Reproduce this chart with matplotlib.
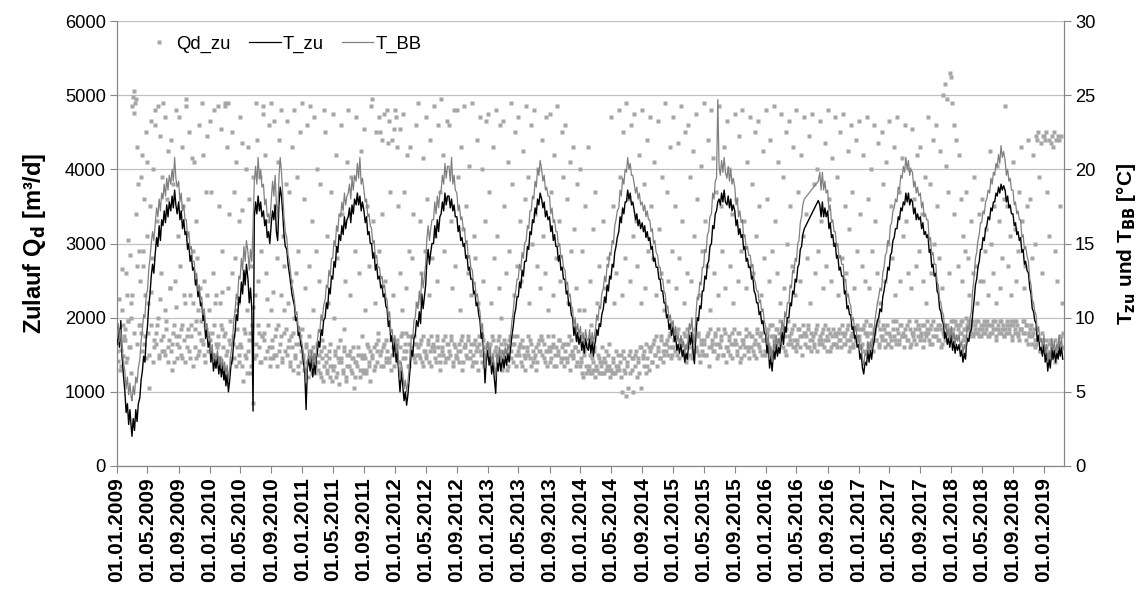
import numpy as np
import pandas as pd
import matplotlib
matplotlib.use("Agg")
import matplotlib.pyplot as plt
from matplotlib.lines import Line2D

plt.rcParams['font.family'] = ['Liberation Sans', 'DejaVu Sans']

# ---------------- data ----------------
# Temperatures: six readings per month (days 1, 6, 11, 16, 21, 26), degC
t_zu_2009 = [8.2,9.4,8.0,9.8,7.4,6.2, 5.0,3.6,4.2,2.8,3.8,2.6, 2.0,3.2,2.4,3.8,3.0,4.2, 4.6,5.8,6.4,7.4,7.0,8.6,
             9.4,10.8,11.6,12.8,13.6,13.0, 14.4,15.4,14.8,16.2,15.2,16.6, 16.2,17.2,16.4,17.6,16.8,17.8, 17.2,18.2,17.4,18.6,17.6,17.0,
             17.8,16.6,17.2,16.0,16.6,15.6, 15.8,14.6,15.0,13.8,14.2,13.2, 13.4,12.2,12.6,11.4,11.8,10.8, 11.0,9.8,10.2,8.6,9.2,8.0]
t_zu_2010 = [8.4,7.0,7.8,6.4,7.2,6.6, 7.4,6.2,7.0,6.0,6.8,5.8, 6.6,5.4,6.2,5.0,5.8,6.8, 7.2,8.4,9.0,10.2,9.8,11.4,
             11.0,12.4,11.6,13.2,12.2,13.6, 12.6,11.0,12.0,10.6,3.7,16.8, 17.8,17.0,18.2,17.2,17.8,16.8, 17.2,16.2,16.6,15.4,15.8,15.0,
             16.4,17.2,16.6,17.6,15.8,15.2, 17.6,18.8,18.2,17.0,15.6,14.8, 14.6,13.6,13.0,12.4,11.6,11.2, 10.8,9.8,10.0,8.8,9.0,8.2]
t_zu_2011 = [7.8,7.0,6.2,3.8,6.6,7.2, 6.4,7.4,6.0,7.0,6.2,7.4, 7.6,8.4,8.0,9.2,8.8,9.8, 10.0,11.0,10.6,12.0,11.6,12.8,
             12.6,13.8,13.4,14.8,14.4,15.6, 15.2,16.2,15.6,16.8,16.0,16.6, 16.8,17.4,16.4,17.6,17.0,18.0, 17.6,18.4,17.6,18.2,17.2,17.8,
             17.2,16.4,16.8,15.6,15.8,15.0, 15.0,14.0,14.4,13.2,13.6,12.6, 12.8,12.0,12.2,11.4,11.6,10.8, 10.6,9.4,9.8,8.4,8.8,7.4]
t_zu_2012 = [8.4,7.0,7.8,6.2,5.0,6.4, 5.4,4.4,5.0,4.1,4.8,5.8, 6.6,7.8,7.4,8.6,8.8,9.8, 9.4,10.4,9.6,11.6,10.6,11.4,
             12.2,13.8,14.6,13.6,14.4,15.0, 15.0,16.2,15.4,16.6,15.8,16.8, 17.0,17.8,17.2,18.4,17.6,18.2, 18.2,17.4,18.0,17.2,17.6,16.8,
             16.8,15.8,16.2,15.2,15.4,14.8, 15.0,14.0,14.2,13.2,13.4,12.6, 12.6,11.6,11.8,10.8,11.0,10.2, 9.8,8.6,9.0,7.4,5.6,7.2]
t_zu_2013 = [7.8,6.8,7.4,6.2,7.0,6.0, 4.9,7.0,6.4,7.4,6.4,7.0, 7.2,6.6,7.4,6.8,7.6,7.0, 8.0,8.8,9.4,10.2,10.6,11.4,
             11.4,12.4,12.0,13.2,12.8,13.8, 13.8,14.8,14.6,15.8,15.6,16.6, 16.4,17.4,17.0,18.0,17.6,18.4, 18.0,17.4,17.8,16.8,17.2,16.6,
             16.8,15.8,16.2,15.2,15.6,14.8, 14.8,13.8,14.2,13.2,13.4,12.6, 12.6,11.6,11.8,10.8,11.0,10.2, 10.0,8.8,9.4,8.4,9.0,8.2]
t_zu_2014 = [8.8,7.8,8.4,7.6,8.6,8.0, 7.8,8.6,7.6,8.4,7.4,8.2, 8.4,9.2,8.8,9.6,9.4,10.2, 10.6,11.4,11.0,12.2,11.8,12.8,
             12.6,13.6,13.4,14.4,14.8,15.4, 15.8,16.8,16.4,17.4,17.0,17.8, 17.8,18.6,18.0,18.4,17.6,17.8, 17.2,16.6,17.0,16.2,16.6,16.0,
             16.4,15.8,16.2,15.4,15.8,15.2, 15.4,14.6,14.8,13.8,14.0,13.4, 13.4,12.6,12.6,11.8,11.8,11.0, 11.0,10.0,10.2,9.2,9.6,8.8]
t_zu_2015 = [9.4,8.4,8.8,7.8,8.2,7.6, 8.2,7.4,7.8,7.0,7.6,7.2, 7.8,8.8,8.2,9.0,7.6,6.9, 9.0,10.0,9.8,10.8,10.6,11.8,
             11.8,12.8,12.6,13.6,13.8,14.8, 15.0,16.2,16.0,17.0,17.2,17.8, 18.0,17.6,18.4,17.8,18.6,17.8, 17.6,18.2,17.4,18.0,17.2,17.6,
             17.2,16.2,16.6,15.6,16.0,15.4, 15.6,14.6,14.8,13.8,14.0,13.4, 13.4,12.6,12.8,11.8,11.6,11.0, 11.0,10.2,10.4,9.6,9.8,9.0]
t_zu_2016 = [8.8,7.6,8.2,6.6,7.4,6.4, 7.8,7.2,8.2,7.4,8.0,7.6, 8.4,9.0,8.2,9.4,9.0,10.0, 10.0,11.0,10.8,11.8,11.6,12.6,
             12.4,13.4,13.6,14.6,14.8,15.6, 16.0,None,None,None,None,None, None,None,None,None,None,17.9, 17.6,16.8,17.8,16.8,17.4,16.8,
             17.2,16.0,16.4,15.4,15.6,14.8, 15.0,14.0,14.2,13.2,13.4,12.8, 12.8,11.6,11.8,10.6,10.8,10.2, 10.2,9.2,9.4,8.6,8.8,8.0]
t_zu_2017 = [8.2,7.2,7.6,6.6,6.2,7.0, 6.8,7.8,7.0,7.8,7.2,8.0, 8.2,8.8,9.4,9.8,10.0,10.6, 10.4,11.4,11.8,12.4,12.6,13.4,
             13.2,14.2,14.4,15.2,15.4,16.0, 16.0,16.8,16.6,17.4,17.2,17.8, 17.6,18.4,17.8,18.4,17.6,18.0, 17.8,17.0,17.4,16.6,17.0,16.6,
             16.8,16.0,16.4,15.6,15.8,15.4, 15.6,14.4,14.6,13.4,13.6,12.8, 13.0,11.8,11.6,10.6,10.4,9.8, 9.6,8.6,9.0,8.2,8.6,8.0]
t_zu_2018 = [8.8,7.8,8.4,7.6,8.2,7.8, 8.2,7.4,7.8,7.0,7.6,7.2, 8.0,8.6,8.4,9.0,9.2,10.2, 11.2,12.2,12.6,13.4,13.8,14.6,
             14.6,15.4,15.2,16.0,16.2,16.8, 16.6,17.4,17.2,17.8,17.8,18.4, 18.2,18.8,18.4,19.0,18.6,18.9, 18.6,17.8,18.2,17.4,17.6,17.0,
             17.0,16.2,16.4,15.6,15.8,15.2, 15.4,14.4,14.6,13.6,13.8,13.2, 13.0,12.0,11.6,10.6,10.4,9.8, 9.6,8.4,8.8,7.8,8.0,7.4]
t_zu_2019 = [8.2,7.0,7.6,6.4,7.2,6.6, 8.0,7.2,7.8,7.0,7.6,7.2, 8.2,7.4,8.0,7.2]

t_bb_2009 = [8.6,9.6,8.4,9.2,8.0,7.0, 6.4,5.2,6.0,4.8,5.6,4.6, 4.4,5.4,4.8,6.0,5.6,6.6, 7.2,8.4,9.2,10.2,10.0,11.6,
             11.8,13.2,14.0,15.0,15.8,15.2, 16.4,17.4,16.8,18.0,17.2,18.4, 18.0,19.0,18.2,19.4,18.6,19.6, 19.0,20.0,19.2,20.8,19.4,18.8,
             19.2,17.8,18.4,17.2,17.6,16.6, 16.6,15.4,15.8,14.6,14.8,13.8, 13.8,12.6,13.0,11.8,12.2,11.2, 11.4,10.2,10.6,9.2,9.6,8.6]
t_bb_2010 = [8.8,7.6,8.2,7.0,7.6,7.2, 7.8,6.8,7.4,6.6,7.2,6.4, 7.0,6.2,6.8,5.8,6.6,7.6, 8.4,9.8,10.4,11.6,11.2,12.8,
             12.6,14.0,13.2,14.8,13.8,15.2, 14.4,13.2,14.6,13.8,16.2,19.2, 20.2,19.0,20.8,19.4,20.0,18.8, 19.0,17.6,18.0,16.8,17.0,16.4,
             18.0,19.2,18.2,19.6,17.6,16.8, 19.4,20.8,19.8,18.4,16.8,15.8, 15.4,14.2,13.8,13.0,12.2,11.8, 11.2,10.2,10.4,9.2,9.4,8.6]
t_bb_2011 = [8.2,7.4,6.8,5.6,7.0,7.6, 7.0,7.8,6.6,7.6,6.8,7.8, 8.4,9.2,9.0,10.2,9.8,10.8, 11.2,12.2,12.0,13.2,12.8,14.0,
             14.0,15.2,14.8,16.2,15.8,17.0, 16.8,17.8,17.2,18.4,17.6,18.2, 18.4,19.0,18.0,19.4,18.6,19.6, 19.2,20.4,19.4,20.8,19.0,19.4,
             18.6,17.8,18.0,16.8,17.0,16.2, 16.0,15.0,15.2,14.0,14.2,13.4, 13.4,12.6,12.8,12.0,12.2,11.4, 11.2,10.0,10.4,9.0,9.2,8.2]
t_bb_2012 = [8.8,7.6,8.2,6.8,5.8,7.0, 6.2,5.2,5.8,5.0,5.6,6.6, 7.6,8.8,8.6,9.8,10.0,11.0, 10.6,11.8,11.0,13.0,12.0,12.8,
             13.6,15.4,16.2,15.2,16.0,16.6, 16.6,17.8,17.0,18.2,17.4,18.4, 18.6,19.6,19.0,20.4,19.4,20.2, 20.2,19.2,20.8,19.0,19.6,18.6,
             18.4,17.2,17.6,16.6,16.8,16.0, 16.0,15.0,15.2,14.0,14.2,13.4, 13.2,12.2,12.4,11.4,11.6,10.8, 10.4,9.2,9.6,8.0,6.6,7.8]
t_bb_2013 = [8.4,7.4,8.0,6.8,7.6,6.8, 6.0,7.6,7.0,8.0,7.0,7.6, 7.8,7.2,8.0,7.4,8.2,7.8, 8.8,9.8,10.4,11.4,11.8,12.6,
             12.6,13.6,13.2,14.4,14.0,15.0, 15.2,16.2,16.0,17.2,17.2,18.2, 18.0,19.2,18.8,20.0,19.6,20.6, 20.0,19.2,19.6,18.6,18.8,18.2,
             18.2,17.0,17.4,16.4,16.6,15.8, 15.8,14.8,15.0,14.0,14.2,13.4, 13.2,12.2,12.4,11.4,11.6,10.8, 10.6,9.4,10.0,9.0,9.6,8.8]
t_bb_2014 = [9.4,8.4,9.0,8.2,9.2,8.6, 8.4,9.2,8.2,9.0,8.2,9.0, 9.2,10.2,9.8,10.8,10.6,11.6, 12.0,12.8,12.4,13.6,13.4,14.4,
             14.2,15.2,15.0,16.2,16.6,17.2, 17.4,18.6,18.2,19.4,19.0,20.0, 19.8,20.8,20.0,20.4,19.6,19.6, 19.0,18.4,18.8,18.0,18.4,17.6,
             17.8,17.2,17.6,16.8,17.2,16.6, 16.6,15.8,16.0,15.0,15.2,14.4, 14.2,13.4,13.4,12.6,12.6,11.8, 11.6,10.6,10.8,9.8,10.2,9.4]
t_bb_2015 = [9.8,8.8,9.4,8.4,8.8,8.2, 8.8,8.0,8.4,7.6,8.2,7.8, 8.6,9.6,9.2,10.0,8.6,8.0, 10.2,11.4,11.2,12.4,12.2,13.4,
             13.4,14.6,14.4,15.6,15.8,16.8, 17.0,18.4,18.0,19.2,19.4,24.7, 20.2,19.6,20.6,19.8,20.8,19.8, 19.4,20.2,19.2,20.0,19.0,19.4,
             18.8,17.6,18.0,16.8,17.2,16.4, 16.6,15.4,15.6,14.6,14.8,14.2, 14.2,13.4,13.6,12.6,12.4,11.8, 11.8,11.0,11.2,10.4,10.6,9.8]
t_bb_2016 = [9.4,8.2,8.8,7.2,8.0,7.0, 8.4,7.8,8.8,8.0,8.6,8.2, 9.2,9.8,9.0,10.4,10.0,11.0, 11.0,12.2,12.0,13.2,13.0,14.0,
             13.8,15.0,15.2,16.4,16.8,17.6, 18.0,None,None,None,None,None, None,None,None,None,None,19.2, 19.8,18.6,19.8,18.6,19.2,18.4,
             18.6,17.2,17.6,16.4,16.6,15.8, 15.8,14.8,15.0,14.0,14.2,13.6, 13.6,12.4,12.6,11.4,11.6,11.0, 10.8,9.8,10.0,9.2,9.4,8.6]
t_bb_2017 = [8.8,7.8,8.2,7.2,6.8,7.6, 7.4,8.4,7.6,8.4,7.8,8.6, 9.0,9.8,10.4,11.0,11.4,12.0, 11.8,13.0,13.4,14.2,14.4,15.2,
             15.0,16.2,16.4,17.2,17.4,18.0, 17.8,18.8,18.6,19.6,19.4,20.2, 19.8,20.8,20.0,20.6,19.6,20.0, 19.8,18.8,19.2,18.4,18.8,18.2,
             18.4,17.4,17.8,16.8,17.0,16.6, 16.6,15.2,15.4,14.2,14.4,13.6, 13.6,12.4,12.2,11.2,11.0,10.4, 10.2,9.2,9.6,8.8,9.2,8.6]
t_bb_2018 = [9.4,8.4,9.0,8.2,8.8,8.4, 8.8,8.0,8.4,7.6,8.2,7.8, 8.6,9.4,9.2,10.0,10.4,11.8, 12.8,14.0,14.4,15.2,15.6,16.4,
             16.4,17.2,17.0,17.8,18.0,18.6, 18.4,19.4,19.0,19.8,19.6,20.4, 20.2,21.0,20.4,21.6,20.8,21.2, 20.6,19.6,20.0,19.2,19.4,18.6,
             18.6,17.6,17.8,17.0,17.2,16.6, 16.6,15.4,15.6,14.6,14.8,14.2, 13.8,12.6,12.2,11.2,11.0,10.4, 10.2,9.0,9.4,8.4,8.6,8.0]
t_bb_2019 = [8.8,7.6,8.2,7.0,7.8,7.2, 8.6,7.8,8.4,7.6,8.2,7.8, 8.8,8.0,8.6,7.8]

# Inflow Qd_zu: ten readings per month, m3/d
qd_2009 = [1650,1420,2250,1820,1300,1560,2650,1900,1480,1750, 1850,2600,1400,2300,1950,3050,1600,2850,1250,2000,
           4850,4980,4760,5050,4900,3400,2700,4300,3800,1900, 2500,3900,1800,4200,2900,3600,1650,2300,4500,3100,
           4100,2200,1050,3500,4650,1900,2800,4000,1600,4800, 4600,1800,3300,4850,2000,1500,4450,2600,1700,3900,
           4900,1550,2100,4700,1850,3600,1400,4250,1700,2400, 4400,1650,1300,3800,1900,2500,1750,4800,1450,3100,
           4700,1600,2700,1850,4300,1450,3500,1700,2200,4850, 4950,1750,3600,1550,4500,2300,1900,4150,1350,2900,
           4100,1600,3300,1950,2800,1500,4600,1800,2400,1700, 4900,1650,4200,2500,1400,3700,1850,4450,1550,2100]
qd_2010 = [4650,1700,3700,1500,2600,1900,4800,1350,2300,1600, 4850,1750,3500,1450,2200,4550,1850,2900,1600,1300,
           4900,4850,1500,4300,2400,1700,3400,1950,1400,2600, 4500,1650,3700,2800,1350,4100,1850,2200,1500,3300,
           4700,1600,4350,3450,1150,2600,1800,1450,4000,2100, 4300,1700,3600,1250,2700,1900,850,3900,1450,2300,
           4900,1650,4400,2500,1800,3900,1400,2900,1750,4750, 4850,1800,4200,2600,1550,3300,1900,4600,1450,2100,
           4900,1700,2350,4650,1500,3500,1850,2800,1350,4100, 4400,1650,4800,2300,1450,3100,1800,2700,1550,3800,
           4650,1600,2200,3700,1400,2500,1750,4300,1300,2000, 4800,1500,2600,3900,1250,2900,1650,4500,1400,1850]
qd_2011 = [4900,1450,3600,1300,2400,1600,4600,1200,2700,1750, 4850,1550,3300,1350,2100,1500,4700,1250,2900,1650,
           4000,1400,2500,1250,3800,1550,1700,1150,4800,1350, 4500,1500,3100,1300,2200,1450,1650,1200,3700,1350,
           4750,1350,2000,1550,4200,1250,2800,1450,1100,1700, 4600,1400,3400,1250,1850,1550,2500,1150,4100,1350,
           4800,1500,2300,1300,3900,1450,1600,1050,2900,1400, 4700,1350,3600,1500,2600,1200,4250,1450,1750,1300,
           4550,1450,2100,1250,3500,1600,1350,2700,1150,4850, 4950,1500,3300,1300,2200,1650,4500,1400,1800,2900,
           4700,4500,1550,4400,3400,1350,4750,2500,1450,1700, 4800,4350,1450,4650,3700,1300,4400,2300,1600,4550]
qd_2012 = [4800,4700,1650,4300,3500,1400,4550,2600,1750,2100, 4750,1550,3700,1450,2400,1800,4200,1350,2900,1650,
           4300,1600,2800,1500,3400,1750,1400,4600,1650,2200, 4900,1500,3300,1650,2600,1400,4150,1750,1550,2900,
           4700,1450,3600,1700,2300,1550,4400,1350,2800,1650, 4850,1600,3100,1400,2500,1750,4600,1500,3700,1300,
           4950,1550,4200,1700,2900,1400,3600,1650,4650,1450, 4600,1500,3300,1750,2400,1350,4800,1600,2700,1450,
           4800,1550,3900,1400,2100,1700,4300,1300,3200,1600, 4850,1650,3500,1450,2600,1750,4050,1550,2300,1350,
           4900,1400,3100,1700,2800,1550,4400,1300,2200,1650, 4700,1500,4000,1750,2500,1350,3300,1600,4650,1450]
qd_2013 = [4750,1600,3700,1450,2200,1750,4300,1300,2800,1550, 4800,1500,3100,1700,2400,1400,4600,1650,2000,1350,
           4650,1700,3500,1550,2600,1300,4100,1450,2900,1750, 4900,1450,3800,1650,2300,1750,4500,1350,2700,1550,
           4700,1600,3300,1400,2500,1700,4250,1500,3600,1300, 4850,1550,3900,1750,2200,1450,4600,1650,3000,1400,
           4800,1500,3400,1300,2700,1650,4000,1550,2400,1750, 4400,1700,3100,1450,2600,1550,4700,1350,2100,1600,
           4750,1400,3700,1600,2300,1750,4200,1500,2800,1350, 4850,1550,3300,1700,2500,1400,4500,1650,3900,1450,
           4600,1650,3600,1450,2200,1750,4100,1300,2900,1550, 4300,1500,3200,1600,2400,1400,3800,1700,2100,1350]
qd_2014 = [4000,1400,2900,1200,2100,1500,3500,1250,1600,1300, 4300,1350,2500,1250,1900,1450,3200,1300,1600,1200,
           3700,1300,2200,1500,1250,2700,1400,1350,1600,1250, 3300,1450,2400,1300,1550,1300,2800,1350,1650,1200,
           4700,1250,3500,1450,2200,1250,1550,2600,1300,1350, 4800,1400,3900,1200,2300,1550,4500,1300,2800,950,
           4900,1350,3600,1500,2500,1250,4600,1450,3100,1000, 4750,1500,3300,1200,2700,1400,4200,1600,2200,1050,
           4800,1450,3800,1550,2400,1250,4400,1350,2900,1600, 4700,1600,3500,1400,2800,1700,4100,1500,2300,1350,
           4650,1550,3200,1450,2600,1700,3900,1400,2100,1650, 4900,1650,3700,1500,2500,1750,4300,1450,2900,1600]
qd_2015 = [4700,1700,3500,1550,2400,1800,4350,1450,2800,1650, 4850,1650,3300,1500,2200,1750,4500,1400,2600,1850,
           4600,1800,3900,1600,2500,1450,4250,1700,3100,1550, 4750,1550,3600,1750,2300,1400,4050,1650,2900,1500,
           4900,1700,3300,1500,2700,1800,4400,1350,2100,1600, 4800,1650,4150,1550,2600,1750,3700,1450,2300,1850,
           4850,1600,3500,1700,2900,1500,4300,1800,2400,1400, 4650,1550,4000,1750,2700,1650,3400,1450,2200,1850,
           4750,1650,3600,1500,2500,1800,4450,1400,2900,1700, 4800,1700,3300,1600,2400,1850,4100,1550,2700,1450,
           4700,1750,3800,1550,2600,1650,4500,1450,3100,1800, 4650,1600,3500,1750,2300,1500,4250,1700,2800,1550]
qd_2016 = [4800,1800,3600,1650,2500,1900,4400,1550,2900,1750, 4850,1700,3300,1850,2600,1550,4100,1800,2200,1650,
           4750,1850,3900,1600,2400,1750,4500,1500,3000,1950, 4650,1700,3500,1800,2700,1600,4300,1900,2300,1550,
           4800,1650,3700,1850,2500,1750,4200,1500,3100,1800, 4700,1800,3400,1600,2800,1900,4450,1700,2200,1550,
           4750,1750,3800,1650,2600,1850,4000,1550,2900,1700, 4650,1700,3300,1800,2400,1600,4350,1900,2700,1750,
           4800,1850,3600,1550,2500,1750,4150,1650,3000,1800, 4700,1650,3900,1800,2300,1700,4500,1600,2800,1900,
           4750,1750,3500,1650,2600,1850,4250,1550,3200,1700, 4600,1800,3700,1600,2400,1750,4400,1700,2900,1850]
qd_2017 = [4650,1750,3400,1600,2700,1850,4200,1550,2500,1950, 4700,1800,3600,1650,2400,1900,4000,1700,2900,1550,
           4600,1850,3300,1700,2600,1950,4350,1600,2200,1750, 4500,1700,3800,1850,2500,1600,4100,1900,3000,1650,
           4650,1750,3500,1600,2800,1850,4300,1700,2300,1950, 4700,1800,3700,1650,2500,1900,4150,1750,3100,1600,
           4600,1850,3300,1700,2600,1950,4000,1600,2400,1800, 4550,1750,3600,1850,2700,1650,4200,1900,2900,1700,
           4300,1800,3400,1600,2500,1900,3900,1750,2200,1850, 4700,1700,3800,1850,2600,1650,4400,1950,3000,1750,
           4600,1850,3500,1700,2800,1900,4250,1600,2400,1800, 5000,1750,5150,4050,4950,1850,3700,2600,5300,1950]
qd_2018 = [5250,4900,1850,4600,3400,1950,4400,1750,2700,1900, 4200,1800,3600,1950,2500,1700,3100,1850,2900,2000,
           3700,1900,2800,1750,2300,1850,3300,1950,2600,1800, 3900,1850,2700,1950,2200,1800,3400,1750,2500,1900,
           3600,1800,2500,1900,2900,1850,3200,1950,2300,1750, 4250,1900,3000,1800,2600,1950,3500,1850,2200,1700,
           4050,1850,3300,1950,2400,1800,2800,1900,3600,1750, 4850,1800,3500,1900,2700,1850,3100,1950,2300,1700,
           4100,1950,3200,1800,2500,1900,2900,1750,3700,1850, 4300,1850,3300,1950,2400,1800,2700,1900,3500,1650,
           4400,1800,3600,1900,2800,1750,4200,1850,3000,1600, 4450,4400,1700,4500,3900,1550,4350,2600,1800,4450]
qd_2019 = [4450,4400,1600,4500,3700,1450,4400,3100,1700,4350, 4450,4300,1550,4500,2900,1400,4400,2500,1650,4450,
           4400,3500,1750,4450,2200,1800]

# Additional Qd_zu readings in the dense lower band: five per month, m3/d
qd2_2009 = [1550,1850,1350,2100,1700, 1700,1450,1950,1600,2200, 2300,1800,4950,1650,2900, 1900,1550,2700,1750,1450,
            1800,1500,2350,1400,1700, 1650,1900,1450,2250,1550, 1750,1500,1950,1600,2400, 1550,1800,1400,2150,1650,
            1750,1500,1900,2300,1400, 1600,1850,1450,1750,2200, 1850,1450,2100,1550,1950, 1700,1500,1900,2300,1800]
qd2_2010 = [1550,1800,1450,2200,1650, 1650,1400,1900,2350,1750, 1800,1550,4900,1650,1450, 1750,1450,2100,1600,1400,
            1650,1350,1850,1500,1250, 1550,1800,1350,2150,1450, 1500,1900,1600,1400,1750, 1700,1450,2250,1600,1350,
            1600,1450,1750,1500,1900, 1550,1750,1400,2100,1850, 1500,1700,1350,1600,1800, 1450,1650,1350,1750,1550]
qd2_2011 = [1500,1300,1650,1400,1550, 1450,1250,1600,1350,1500, 1300,1500,1200,1450,1600, 1400,1250,1550,1350,1150,
            1300,1500,1200,1600,1400, 1450,1300,1600,1200,1500, 1350,1550,1250,1450,1200, 1400,1600,1300,1500,1250,
            1500,1300,1650,1400,1550, 1450,1600,1350,1550,1700, 1500,1350,1600,1650,1400, 1550,1400,1700,1500,1350]
qd2_2012 = [1500,1700,1400,1600,1800, 1450,1650,1550,1750,1350, 1550,1750,1450,1650,1500, 1600,1450,1700,1350,1550,
            1500,1650,1400,1750,1600, 1550,1450,1700,1600,1400, 1600,1500,1750,1450,1650, 1550,1700,1400,1650,1500,
            1450,1650,1550,1750,1400, 1600,1500,1700,1450,1650, 1500,1650,1400,1600,1750, 1550,1400,1700,1500,1650]
qd2_2013 = [1500,1650,1400,1700,1550, 1600,1450,1750,1550,1300, 1450,1650,1550,1350,1700, 1550,1400,1650,1500,1750,
            1500,1650,1350,1600,1450, 1600,1500,1700,1350,1550, 1450,1600,1400,1700,1550, 1500,1650,1400,1550,1750,
            1550,1450,1650,1350,1600, 1500,1700,1450,1600,1350, 1550,1400,1650,1500,1700, 1450,1600,1350,1550,1700]
qd2_2014 = [1450,1250,1550,1350,1650, 1300,1500,1250,1400,1550, 1350,1300,1450,1250,1400, 1250,1400,1350,1500,1300,
            1300,1400,1250,1350,1500, 1300,1500,1000,1450,1250, 1400,1050,1550,1300,1450, 1350,1550,1450,1250,1600,
            1500,1350,1650,1450,1300, 1550,1400,1650,1500,1750, 1600,1450,1750,1550,1500, 1550,1700,1600,1800,1500]
qd2_2015 = [1600,1750,1500,1850,1650, 1700,1550,1800,1600,1450, 1650,1500,1750,1550,1850, 1600,1800,1500,1700,1550,
            1650,1500,1750,1600,1850, 1700,1550,1800,1650,1500, 1650,1750,1500,1850,1600, 1600,1700,1500,1800,1650,
            1700,1550,1800,1600,1450, 1650,1500,1750,1600,1800, 1600,1750,1500,1700,1850, 1650,1550,1800,1700,1500]
qd2_2016 = [1700,1850,1600,1750,1900, 1750,1600,1850,1700,1950, 1700,1800,1550,1850,1650, 1750,1650,1850,1700,1600,
            1700,1850,1600,1750,1900, 1650,1750,1850,1600,1800, 1700,1600,1800,1900,1650, 1750,1650,1850,1700,1550,
            1700,1800,1600,1850,1650, 1750,1600,1850,1700,1800, 1650,1800,1700,1900,1600, 1750,1650,1850,1700,1900]
qd2_2017 = [1700,1850,1650,1900,1800, 1750,1650,1900,1800,1700, 1800,1700,1900,1650,1850, 1750,1900,1700,1800,1650,
            1800,1700,1950,1750,1650, 1850,1700,1900,1750,1800, 1750,1900,1700,1850,1650, 1800,1700,1950,1750,1850,
            1750,1900,1700,1800,1950, 1800,1650,1900,1750,1850, 1750,1900,1700,1850,1650, 1800,1700,1900,1750,1850]
qd2_2018 = [1800,1950,1750,1900,1850, 1900,1800,1950,1750,1850, 1850,1950,1800,1900,1750, 1900,1800,1950,1850,1750,
            1850,1950,1800,1900,1750, 1800,1900,1850,1950,1750, 1900,1800,1950,1850,1750, 1850,1950,1800,1900,1750,
            1900,1850,1950,1800,1700, 1850,1800,1950,1700,1900, 1750,1850,1650,1800,1700, 1650,1750,1550,1700,1600]
qd2_2019 = [1550,1700,1500,1650,1450, 1600,1500,1700,1550,1650, 1650,1750,1600]

years = list(range(2009, 2020))
t_zu_years = dict(zip(years, [t_zu_2009, t_zu_2010, t_zu_2011, t_zu_2012, t_zu_2013, t_zu_2014,
                              t_zu_2015, t_zu_2016, t_zu_2017, t_zu_2018, t_zu_2019]))
t_bb_years = dict(zip(years, [t_bb_2009, t_bb_2010, t_bb_2011, t_bb_2012, t_bb_2013, t_bb_2014,
                              t_bb_2015, t_bb_2016, t_bb_2017, t_bb_2018, t_bb_2019]))
qd_years = dict(zip(years, [qd_2009, qd_2010, qd_2011, qd_2012, qd_2013, qd_2014,
                            qd_2015, qd_2016, qd_2017, qd_2018, qd_2019]))
qd2_years = dict(zip(years, [qd2_2009, qd2_2010, qd2_2011, qd2_2012, qd2_2013, qd2_2014,
                             qd2_2015, qd2_2016, qd2_2017, qd2_2018, qd2_2019]))

tick_labels = [f"01.{m:02d}.{y}" for y in range(2009, 2020) for m in (1, 5, 9)][:31]


# ---------------- assemble dates ----------------
def temp_series(by_year):
    d, v = [], []
    for y, vals in by_year.items():
        dates = [pd.Timestamp(y, m, day) for m in range(1, 13) for day in (1, 6, 11, 16, 21, 26)]
        for dt, val in zip(dates, vals):
            if val is not None:
                d.append(dt)
                v.append(val)
    return d, v


def qd_series(by_year, per_month, shift):
    d, v = [], []
    for y, vals in by_year.items():
        dates = []
        for m in range(1, 13):
            start = pd.Timestamp(y, m, 1)
            dim = start.days_in_month
            dates += [start + pd.Timedelta(days=i * dim / per_month + shift) for i in range(per_month)]
        for dt, val in zip(dates, vals):
            d.append(dt)
            v.append(val)
    return d, v


tz_d, tz_v = temp_series(t_zu_years)
tb_d, tb_v = temp_series(t_bb_years)
qa_d, qa_v = qd_series(qd_years, 10, 0.0)
qb_d, qb_v = qd_series(qd2_years, 5, 1.5)
qd_d = qa_d + qb_d
qd_v = qa_v + qb_v

# ---------------- plot ----------------
W, H = 1148, 590
fig = plt.figure(figsize=(W / 100, H / 100), dpi=100)
L, R, T, B = 117, 1064, 21, 466
ax = fig.add_axes([L / W, 1 - B / H, (R - L) / W, (B - T) / H])

axis_col = '#868686'
qd_col = '#a6a6a6'
ax.plot(qd_d, qd_v, linestyle='none', marker='s', ms=3.3, mec='none', color=qd_col, zorder=2)
ax.set_ylim(0, 6000)
ax.set_yticks(range(0, 6001, 1000))
ax.yaxis.grid(True, color='#c0c0c0', lw=0.9)
ax.set_axisbelow(True)

ax2 = ax.twinx()
ax2.plot(tz_d, tz_v, color='black', lw=1.0, zorder=3)
ax2.plot(tb_d, tb_v, color='#808080', lw=0.9, zorder=4)
ax2.set_ylim(0, 30)
ax2.set_yticks(range(0, 31, 5))

x0 = pd.Timestamp(2009, 1, 1)
x1 = pd.Timestamp(2019, 3, 21)
ax.set_xlim(x0, x1)
tick_dates = [pd.Timestamp(int(s[6:]), int(s[3:5]), 1) for s in tick_labels]
ax.set_xticks(tick_dates)
ax.set_xticklabels(tick_labels, rotation=90, fontweight='bold', fontsize=15)

for a in (ax, ax2):
    a.spines['top'].set_visible(False)
    for s in ('left', 'right', 'bottom'):
        a.spines[s].set_color(axis_col)
ax.tick_params(axis='x', direction='out', length=5, color=axis_col, pad=3)
ax.tick_params(axis='y', direction='out', length=5, color=axis_col, labelsize=13.2, pad=3)
ax2.tick_params(axis='y', direction='out', length=5, color=axis_col, labelsize=13.2, pad=3)

ax.set_ylabel('Zulauf Q$_\\mathbf{d}$ [m³/d]', fontsize=17, fontweight='bold', labelpad=12)
ax2.set_ylabel('T$_\\mathbf{zu}$ und T$_\\mathbf{BB}$ [°C]', fontsize=15, fontweight='bold', labelpad=14)

handles = [Line2D([], [], linestyle='none', marker='s', ms=3.3, mec='none', color=qd_col),
           Line2D([], [], color='black', lw=0.9),
           Line2D([], [], color='#808080', lw=0.9)]
ax.legend(handles, ['Qd_zu', 'T_zu', 'T_BB'], loc='upper left', bbox_to_anchor=(0.01, 1.005),
          ncol=3, frameon=False, fontsize=13.3, handlelength=1.7, handletextpad=0.1,
          columnspacing=1.0)

fig.savefig('out.png', dpi=100)
